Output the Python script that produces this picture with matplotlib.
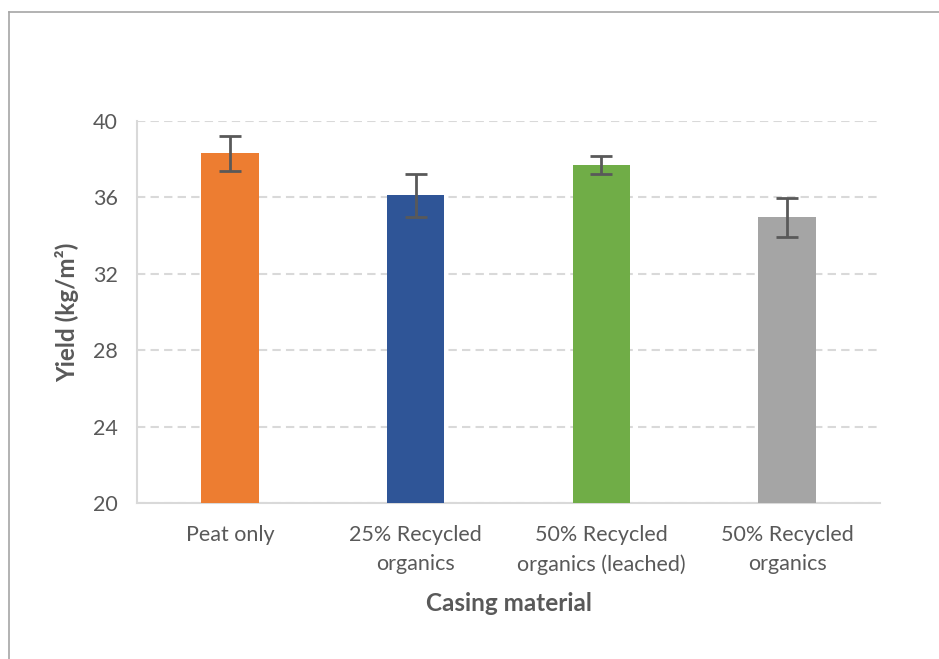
import matplotlib.pyplot as plt
from matplotlib.lines import Line2D

# casing treatments and mean yields
categories = ["Peat only", "25% Recycled\norganics", "50% Recycled\norganics (leached)", "50% Recycled\norganics"]
yields = [38.3, 36.1, 37.7, 34.95]
errors = [0.9, 1.15, 0.45, 1.0]
colors = ["#ED7D31", "#2F5597", "#70AD47", "#A5A5A5"]
yticks = [20, 24, 28, 32, 36, 40]

plt.rcParams['font.family'] = ['Lato', 'DejaVu Sans']
text_col = "#595959"

fig = plt.figure(figsize=(9.39, 6.59), dpi=100)
ax = fig.add_axes([0.1459, 0.2367, 0.7913, 0.5797])

x = list(range(len(categories)))
ax.bar(x, yields, width=0.31, color=colors, zorder=3)
ax.errorbar(x, yields, yerr=errors, fmt='none', ecolor="#595959",
            elinewidth=2, capsize=8, capthick=2, zorder=4)

ax.set_xlim(-0.5, len(categories) - 0.5)
ax.set_ylim(20, 40)
ax.set_yticks(yticks)
ax.set_xticks(x)
ax.set_xticklabels(categories, linespacing=1.55)

ax.grid(axis='y', color="#D9D9D9", linestyle=(0, (4, 2.5)), linewidth=1.5, zorder=0)
for side in ['top', 'right']:
    ax.spines[side].set_visible(False)
for side in ['left', 'bottom']:
    ax.spines[side].set_color("#D9D9D9")
    ax.spines[side].set_linewidth(1.5)

ax.tick_params(axis='both', length=0, labelsize=15.5, labelcolor=text_col)
ax.tick_params(axis='y', pad=14)
ax.tick_params(axis='x', pad=16)

ax.set_ylabel("Yield (kg/m²)", fontsize=17.5, fontweight='bold', color=text_col, labelpad=10)
ax.set_xlabel("Casing material", fontsize=17.5, fontweight='bold', color=text_col, labelpad=12)

# chart frame (only top and left edges show in the crop)
fig.add_artist(Line2D([9 / 939, 9 / 939], [0, 1 - 12 / 659], color="#A6A6A6", lw=1.2))
fig.add_artist(Line2D([9 / 939, 1], [1 - 12 / 659, 1 - 12 / 659], color="#A6A6A6", lw=1.2))

fig.savefig("out.png", dpi=100, facecolor="white")
